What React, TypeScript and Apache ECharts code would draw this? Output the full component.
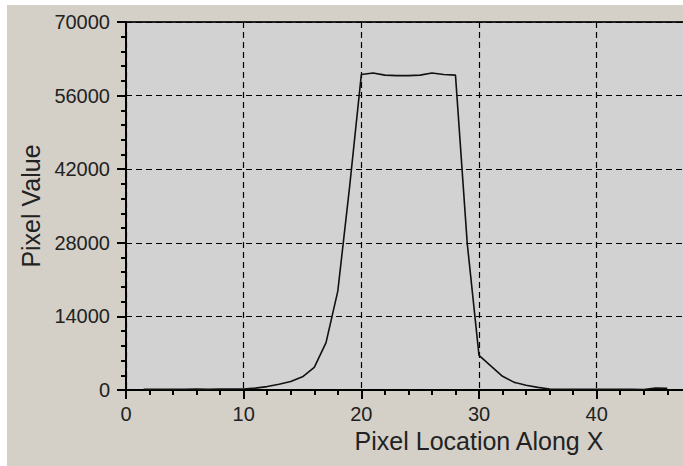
import React, { useEffect, useRef } from "react";
import * as echarts from "echarts";

// Pixel profile along X
const pixelX: number[] = [
  1.5, 2, 3, 4, 5, 6, 7, 8, 9, 10, 11, 12, 13, 14, 15, 16, 17, 18, 19, 20, 21, 22, 23, 24,
  25, 26, 27, 28, 29, 30, 31, 32, 33, 34, 35, 36, 37, 38, 39, 40, 41, 42, 43, 44, 45, 46,
];
const pixelValue: number[] = [
  150, 150, 120, 150, 130, 160, 140, 170, 180, 200, 350, 650, 1100, 1600, 2500, 4300, 9000,
  18800, 38600, 60000, 60300, 59900, 59800, 59800, 59900, 60300, 60000, 59900, 27900, 6600,
  4600, 2600, 1450, 900, 500, 200, 150, 120, 140, 130, 150, 120, 130, 80, 380, 330,
];

const xTitle = "Pixel Location Along X";
const yTitle = "Pixel Value";
const xMin = 0;
const xMax = 60;
const xInterval = 10;
const xLastShown = 40;
const yMin = 0;
const yMax = 70000;
const yInterval = 14000;

const FONT = "'Liberation Sans', Arial, sans-serif";

export default function App() {
  const ref = useRef<HTMLDivElement>(null);

  useEffect(() => {
    if (!ref.current) return;
    const chart = echarts.init(ref.current, null, { renderer: "svg" });
    const data = pixelX.map((x, i) => [x, pixelValue[i]]);
    chart.setOption({
      animation: false,
      backgroundColor: "#d4d0c8",
      grid: {
        left: 119,
        top: 17,
        bottom: 76,
        right: 20,
        show: true,
        backgroundColor: "#d2d2d2",
        borderColor: "#222",
        borderWidth: 2,
      },
      xAxis: {
        type: "value",
        min: xMin,
        max: xMax,
        interval: xInterval,
        name: xTitle,
        nameLocation: "middle",
        nameGap: 37,
        nameTextStyle: { fontFamily: FONT, fontSize: 25, color: "#222" },
        axisLine: { show: true, onZero: false, lineStyle: { color: "#000", width: 2 } },
        axisTick: { show: true, inside: false, length: 9, lineStyle: { color: "#000", width: 2 } },
        minorTick: { show: true, splitNumber: 5, length: 5, lineStyle: { color: "#000", width: 2 } },
        axisLabel: {
          margin: 14,
          fontFamily: FONT,
          fontSize: 20,
          color: "#222",
          formatter: (v: number) => (v > xLastShown ? "" : String(v)),
        },
        splitLine: { show: true, lineStyle: { color: "#000", width: 1.2, type: [6, 4] } },
      },
      yAxis: {
        type: "value",
        min: yMin,
        max: yMax,
        interval: yInterval,
        name: yTitle,
        nameLocation: "middle",
        nameGap: 74,
        nameRotate: 90,
        nameTextStyle: { fontFamily: FONT, fontSize: 25, color: "#222" },
        axisLine: { show: true, lineStyle: { color: "#000", width: 2 } },
        axisTick: { show: true, inside: false, length: 9, lineStyle: { color: "#000", width: 2 } },
        minorTick: { show: true, splitNumber: 5, length: 5, lineStyle: { color: "#000", width: 2 } },
        axisLabel: {
          margin: 16,
          fontFamily: FONT,
          fontSize: 20,
          color: "#222",
          formatter: (v: number) => String(v),
        },
        splitLine: { show: true, lineStyle: { color: "#000", width: 1.2, type: [6, 4] } },
      },
      series: [
        {
          type: "line",
          data,
          symbol: "none",
          lineStyle: { color: "#111", width: 1.6 },
          z: 5,
        },
      ],
    });
    return () => chart.dispose();
  }, []);

  return (
    <div
      style={{
        position: "fixed",
        left: 7,
        top: 5,
        width: 676,
        height: 461,
        overflow: "hidden",
        background: "#d4d0c8",
      }}
    >
      <div ref={ref} style={{ width: 845, height: 461 }} />
    </div>
  );
}
